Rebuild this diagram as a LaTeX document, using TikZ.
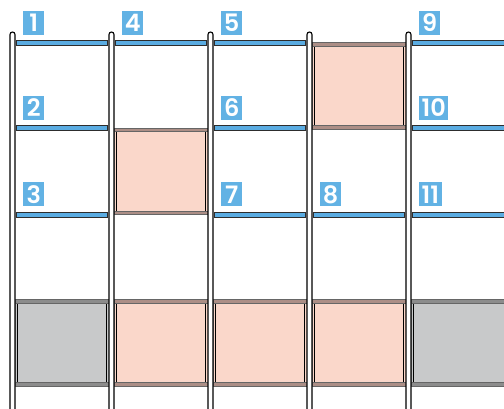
\documentclass[tikz,border=0pt]{standalone}
\usepackage{fontspec}
\setsansfont{Poppins}[BoldFont={Poppins SemiBold}]
\usepackage{tikz}
\usetikzlibrary{positioning}
\definecolor{shelfblue}{RGB}{90, 172, 226}
\definecolor{tagblue}{RGB}{98, 178, 228}
\definecolor{binpink}{RGB}{250, 215, 202}
\definecolor{bingray}{RGB}{200, 201, 202}
\definecolor{stripbrown}{RGB}{172, 142, 134}
\definecolor{stripgray}{RGB}{140, 140, 140}
\definecolor{edgedark}{RGB}{45, 45, 45}

\begin{document}
\begin{tikzpicture}[
    x=1pt, y=-1pt,
    font=\sffamily\bfseries\fontsize{24}{24}\selectfont,
    upright/.style={draw=black, line width=1.1pt, fill=white, rounded corners=2.5pt},
    shelf/.style={draw=edgedark, line width=0.9pt, fill=shelfblue},
    tag/.style={fill=tagblue, text=white, anchor=south west, inner xsep=2.5pt, inner ysep=0pt,
                minimum width=21pt, minimum height=24pt},
    pinkbody/.style={draw=gray, line width=0.6pt, fill=binpink},
    graybody/.style={draw=gray, line width=0.6pt, fill=bingray},
    pinkstrip/.style={draw=gray!80!black, line width=0.7pt, fill=stripbrown},
    graystrip/.style={draw=gray!80!black, line width=0.7pt, fill=stripgray},
    panel/.style={draw=black, line width=0.8pt},
]
\useasboundingbox (0,0) rectangle (504,408);

% --- Shelf boards, row 1 ---
\draw[shelf] (16,40.8) rectangle (107.5,45.8);
\draw[shelf] (115,40.8) rectangle (206.5,45.8);
\draw[shelf] (214,40.8) rectangle (305.5,45.8);
\draw[shelf] (412,40.8) rectangle (512,45.8);

% --- Shelf boards, row 2 ---
\draw[shelf] (16,125.8) rectangle (107.5,130.8);
\draw[shelf] (214,125.8) rectangle (305.5,130.8);
\draw[shelf] (412,125.8) rectangle (512,130.8);

% --- Shelf boards, row 3 ---
\draw[shelf] (16,212.3) rectangle (107.5,217.3);
\draw[shelf] (214,212.3) rectangle (305.5,217.3);
\draw[shelf] (313,212.3) rectangle (404.5,217.3);
\draw[shelf] (412,212.3) rectangle (512,217.3);

% --- Bin in column 4, top row ---
\draw[pinkbody] (312,42.7) rectangle (406,129.3);
\draw[panel, fill=binpink] (314.8,46.2) rectangle (403.2,125.8);
\draw[pinkstrip] (312,42.7) rectangle (406,46.2);
\draw[pinkstrip] (312,125.8) rectangle (406,129.3);

% --- Bin in column 2, middle row ---
\draw[pinkbody] (114,128.3) rectangle (208,214.7);
\draw[panel, fill=binpink] (116.8,131.8) rectangle (205.2,211.2);
\draw[pinkstrip] (114,128.3) rectangle (208,131.8);
\draw[pinkstrip] (114,211.2) rectangle (208,214.7);

% --- Bottom row of bins ---
\draw[graybody] (15,299.5) rectangle (109,386);
\draw[panel, fill=bingray] (17.8,303) rectangle (106.2,382.5);
\draw[graystrip] (15,299.5) rectangle (109,303);
\draw[graystrip] (15,382.5) rectangle (109,386);

\draw[pinkbody] (114,299.5) rectangle (208,386);
\draw[panel, fill=binpink] (116.8,303) rectangle (205.2,382.5);
\draw[pinkstrip] (114,299.5) rectangle (208,303);
\draw[pinkstrip] (114,382.5) rectangle (208,386);

\draw[pinkbody] (213,299.5) rectangle (307,386);
\draw[panel, fill=binpink] (215.8,303) rectangle (304.2,382.5);
\draw[pinkstrip] (213,299.5) rectangle (307,303);
\draw[pinkstrip] (213,382.5) rectangle (307,386);

\draw[pinkbody] (312,299.5) rectangle (406,386);
\draw[panel, fill=binpink] (314.8,303) rectangle (403.2,382.5);
\draw[pinkstrip] (312,299.5) rectangle (406,303);
\draw[pinkstrip] (312,382.5) rectangle (406,386);

\draw[graybody] (411,299.5) rectangle (515,386);
\draw[panel, fill=bingray] (413.8,303) rectangle (520,382.5);
\draw[graystrip] (411,299.5) rectangle (515,303);
\draw[graystrip] (411,382.5) rectangle (515,386);

% --- Uprights, drawn over boards and bins ---
\draw[upright] (10,32) rectangle (15,420);
\draw[upright] (109,32) rectangle (114,420);
\draw[upright] (208,32) rectangle (213,420);
\draw[upright] (307,32) rectangle (312,420);
\draw[upright] (406,32) rectangle (411,420);

% --- Position tags ---
\node[tag] (tag1) at (23,35) {1};
\node[tag] (tag2) at (23,120) {2};
\node[tag] (tag3) at (23,206.5) {3};
\node[tag] (tag4) at (122,35) {4};
\node[tag] (tag5) at (221,35) {5};
\node[tag] (tag6) at (221,120) {6};
\node[tag] (tag7) at (221,206.5) {7};
\node[tag] (tag8) at (320,206.5) {8};
\node[tag] (tag9) at (419,35) {9};
\node[tag] (tag10) at (419,120) {10};
\node[tag] (tag11) at (419,206.5) {11};

\end{tikzpicture}
\end{document}
